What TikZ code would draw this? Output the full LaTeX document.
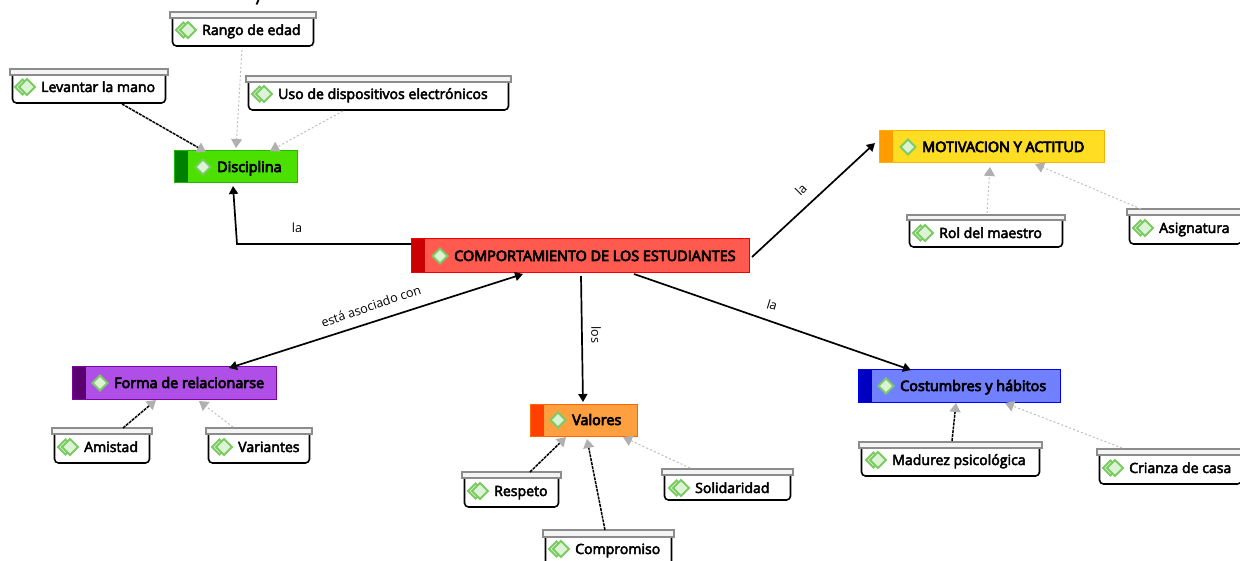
\documentclass[tikz,border=0pt]{standalone}
\usepackage{fontspec}
\setmainfont{Open Sans}
\usetikzlibrary{arrows.meta}
\definecolor{tipgrey}{HTML}{B0B0B0}
\definecolor{dotgrey}{HTML}{BDBDBD}
\definecolor{barfill}{HTML}{F4F4F4}
\definecolor{bargrey}{HTML}{8C8C8C}
\definecolor{icong}{HTML}{7BCB63}
\definecolor{iconl}{HTML}{DDF3D6}
\definecolor{disF}{HTML}{4CE000}\definecolor{disS}{HTML}{008000}\definecolor{disB}{HTML}{22B800}
\definecolor{mainF}{HTML}{FF5A4F}\definecolor{mainS}{HTML}{CC0000}\definecolor{mainB}{HTML}{F00000}
\definecolor{motF}{HTML}{FFDD22}\definecolor{motS}{HTML}{FF9D00}\definecolor{motB}{HTML}{FFB000}
\definecolor{forF}{HTML}{B04FE8}\definecolor{forS}{HTML}{5A0070}\definecolor{forB}{HTML}{8000A0}
\definecolor{valF}{HTML}{FFA040}\definecolor{valS}{HTML}{FF4000}\definecolor{valB}{HTML}{FF6600}
\definecolor{cosF}{HTML}{7080FF}\definecolor{cosS}{HTML}{0000C0}\definecolor{cosB}{HTML}{0000F0}
\tikzset{
  x=1pt,y=-1pt,
  concept/.style={inner sep=0pt,outer sep=0pt,anchor=north west,draw=none},
  mytext/.style={inner sep=0pt,anchor=base west,font=\fontsize{14.1}{16}\selectfont,text=black},
  strongarrow/.style={line width=1.7pt,black,-{Triangle[width=9pt,length=8pt]}},
  blackdep/.style={line width=1.5pt,black,dash pattern=on 3pt off 0.9pt,-{Triangle[color=tipgrey,width=11pt,length=9pt]}},
  greydep/.style={line width=1pt,dotgrey,dash pattern=on 2pt off 2.2pt,-{Triangle[color=tipgrey,width=11pt,length=9pt]}},
  linklabel/.style={inner sep=0pt,font=\fontsize{12.6}{14}\selectfont,text=black},
}
\newcommand{\mainbox}[8]{%
  \node[concept,minimum width=#4pt-#2pt,minimum height=#5pt-#3pt] (#1) at (#2,#3) {};
  \fill[#6F] (#2,#3) rectangle (#4,#5);
  \fill[#6S] (#2,#3) rectangle (#2+13.5,#5);
  \draw[#6B,line width=1pt] (#2,#3) rectangle (#4,#5);
  \fill[iconl,draw=icong,line width=2pt] (#7-14-7.5,{(#3+#5)/2}) -- (#7-14,{(#3+#5)/2-7.5}) -- (#7-14+7.5,{(#3+#5)/2}) -- (#7-14,{(#3+#5)/2+7.5}) -- cycle;
  \node[mytext,font=\fontsize{14.4}{16}\selectfont] (#1t) at (#7,{(#3+#5)/2+5}) {\addfontfeature{FakeBold=5}#8};
}
\newcommand{\leaf}[9]{%
  \node[concept,minimum width=#4pt-#2pt,minimum height=#6pt-#3pt] (#1) at (#2,#3) {};
  \fill[white] (#2+2.5,#5) rectangle (#4-2.5,#6);
  \draw[black,line width=1.6pt,rounded corners=4pt] (#2+2.5,#5) -- (#2+2.5,#6) -- (#4-2.5,#6) -- (#4-2.5,#5);
  \draw[bargrey,fill=barfill,line width=1.2pt] (#2,#3) rectangle (#4,#5);
  \fill[iconl,draw=icong,line width=1.8pt] (#7-26,#8) -- (#7-18.5,#8-7.5) -- (#7-11,#8) -- (#7-18.5,#8+7.5) -- cycle;
  \fill[iconl,draw=icong,line width=1.8pt] (#7-22,#8) -- (#7-14,#8-8) -- (#7-6,#8) -- (#7-14,#8+8) -- cycle;
  \node[mytext] (#1t) at (#7,#8+5) {\addfontfeature{FakeBold=3.5}#9};
}
\newcommand{\conn}[7]{\draw[#1] ([shift={(#3,#4)}]#2.north west) -- ([shift={(#6,#7)}]#5.north west);}
\begin{document}
\begin{tikzpicture}
\useasboundingbox (0,0) rectangle (1240,561);
\clip (0,0) rectangle (1240,561);
\fill[white] (0,0) rectangle (1240,561);
\draw[black,line width=1.8pt] (258.5,0) -- (256.5,4.5);

\mainbox{dis}{174}{151}{297}{183}{dis}{217}{Disciplina}
\mainbox{main}{411}{239}{749}{273}{main}{454}{COMPORTAMIENTO DE LOS ESTUDIANTES}
\mainbox{mot}{879}{131}{1104}{163}{mot}{922}{MOTIVACION Y ACTITUD}
\mainbox{forma}{72}{367}{276}{399}{for}{114}{Forma de relacionarse}
\mainbox{val}{530}{404}{637}{436}{val}{572}{Valores}
\mainbox{cos}{858}{370}{1060}{402}{cos}{900}{Costumbres y hábitos}

\leaf{ran}{170}{12}{316}{18}{46}{202}{30}{Rango de edad}
\leaf{lev}{10}{69}{168}{75}{103}{41}{87}{Levantar la mano}
\leaf{uso}{246}{76}{511}{82}{110}{278}{94}{Uso de dispositivos electrónicos}
\leaf{rol}{907}{215}{1065}{220}{247}{939}{233}{Rol del maestro}
\leaf{asi}{1127}{209}{1244}{215}{244}{1159}{228}{Asignatura}
\leaf{ami}{52}{428}{152}{434}{463}{84}{447}{Amistad}
\leaf{var}{206}{428}{312}{434}{463}{238}{447}{Variantes}
\leaf{res}{462}{472}{561}{478}{507}{494}{491}{Respeto}
\leaf{sol}{662}{469}{793}{475}{500}{695}{488}{Solidaridad}
\leaf{com}{543}{530}{674}{537}{570}{575}{549}{Compromiso}
\leaf{mad}{859}{442}{1042}{448}{476}{892}{460}{Madurez psicológica}
\leaf{cri}{1097}{449}{1244}{455}{484}{1129}{468}{Crianza de casa}

\conn{blackdep}{lev}{112}{35}{dis}{32}{1}
\conn{greydep}{ran}{72}{38}{dis}{62}{-3}
\conn{greydep}{uso}{97}{35}{dis}{96}{0}
\conn{blackdep}{res}{68}{0}{val}{36}{33}
\conn{blackdep}{com}{62}{0}{val}{57}{35}
\conn{greydep}{sol}{28}{-1}{val}{93}{33}
\conn{blackdep}{ami}{71}{0}{forma}{84}{33}
\conn{greydep}{var}{27}{-1}{forma}{127}{34}
\conn{blackdep}{mad}{93}{-1}{cos}{98}{33}
\conn{greydep}{cri}{25}{-1}{cos}{147}{33}
\conn{greydep}{rol}{80}{-2}{mot}{111}{36}
\conn{greydep}{asi}{14}{0}{mot}{156}{33}

\coordinate (bend) at (237,244);
\draw[strongarrow] ([shift={(0,5)}]main.north west) -- (bend) -- ([shift={(59,35)}]dis.north west);
\conn{strongarrow}{main}{341}{18}{mot}{-4}{12}
\conn{strongarrow,{Triangle[width=9pt,length=8pt]}-{Triangle[width=9pt,length=8pt]}}{forma}{157}{1}{main}{112}{35}
\conn{strongarrow}{main}{170}{37}{val}{53}{-2}
\conn{strongarrow}{main}{223}{35}{cos}{53}{0}

\node[linklabel] (l1) at (297,228) {la};
\node[linklabel,rotate=45] (l2) at (801,190) {la};
\node[linklabel,rotate=19] (l3) at (371,306) {está asociado con};
\node[linklabel,rotate=-90] (l4) at (596,335) {los};
\node[linklabel,rotate=-17] (l5) at (772,305) {la};
\end{tikzpicture}
\end{document}
